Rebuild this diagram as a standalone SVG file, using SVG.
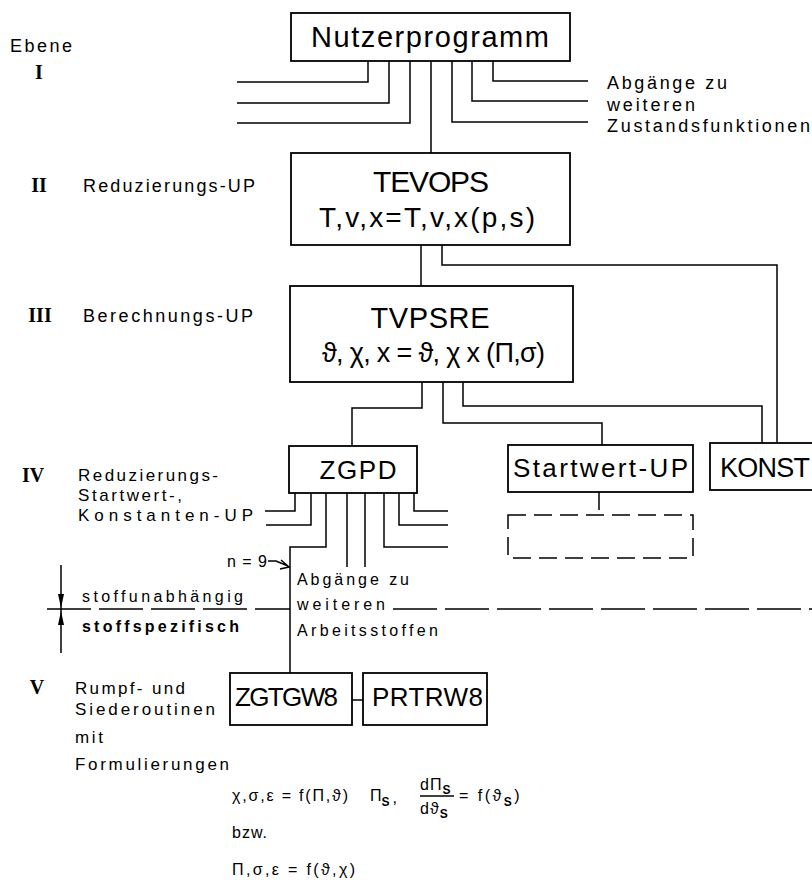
<svg xmlns="http://www.w3.org/2000/svg" width="812" height="887" viewBox="0 0 812 887">
<style>
text{font-family:"Liberation Sans","DejaVu Sans",Arial,sans-serif;fill:#000}
.box{fill:#fff;stroke:#000;stroke-width:1.8}
.dbox{fill:none;stroke:#000;stroke-width:1.5;stroke-dasharray:18 8}
.ln{fill:none;stroke:#000;stroke-width:1.5}
.sep{fill:none;stroke:#000;stroke-width:1.5;stroke-dasharray:44 8}
.lab{font-size:18px}
.lab2{font-size:17px}
.sm{font-size:16px}
.rom{font-family:"Liberation Serif","DejaVu Serif",serif;font-weight:bold;font-size:20px}
.f{font-size:16px}
.sub{font-size:12px;font-weight:bold}
.c{text-anchor:middle}
</style>
<rect width="812" height="887" fill="#fff"/>

<g id="level-labels">
<text class="lab" x="10" y="52" textLength="62">Ebene</text>
<text class="rom c" x="39" y="79">I</text>
<text class="rom c" x="39" y="192">II</text>
<text class="lab" x="83" y="192" textLength="172">Reduzierungs-UP</text>
<text class="rom c" x="40" y="322">III</text>
<text class="lab" x="83" y="322" textLength="170">Berechnungs-UP</text>
<text class="rom c" x="33" y="482">IV</text>
<text class="lab2" x="78" y="481" textLength="140">Reduzierungs-</text>
<text class="lab2" x="78" y="501" textLength="104">Startwert-,</text>
<text class="lab2" x="78" y="521" textLength="175">Konstanten-UP</text>
<text class="rom c" x="37" y="694">V</text>
<text class="lab2" x="75" y="694" textLength="110">Rumpf- und</text>
<text class="lab2" x="75" y="715" textLength="140">Siederoutinen</text>
<text class="lab2" x="75" y="743" textLength="28">mit</text>
<text class="lab2" x="75" y="770" textLength="154">Formulierungen</text>
</g>

<g id="connectors">
<path class="ln" d="M368,61 V82 H237 M389,61 V103 H237 M410,61 V123 H237 M431,61 V153 M452,61 V122 H588 M472,61 V101 H588 M493,61 V81 H588"/>
<path class="ln" d="M421,245 V286"/>
<path class="ln" d="M442,245 V265 H777 V443"/>
<path class="ln" d="M422,382 V408 H352 V446"/>
<path class="ln" d="M443,382 V423 H602 V445"/>
<path class="ln" d="M463,382 V406 H762 V443"/>
<path class="ln" d="M295,493 V511 H265 M311,493 V525 H266 M326,493 V547 H290 V673 M347,493 V567 M365,493 V567 M384,493 V547 H448 M399,493 V525 H448 M414,493 V511 H448"/>
<path class="ln" d="M352,700 H363"/>
<path class="dbox" d="M599,492 V515"/>
</g>

<g id="separator">
<path class="sep" d="M47,609 H290 M393,609 H812"/>
<path class="ln" d="M61,565 V653"/>
<polygon points="58,594 64,594 61,608" fill="#000"/>
<polygon points="58,625 64,625 61,611" fill="#000"/>
<text class="sm" x="82" y="602" textLength="161">stoffunabhängig</text>
<text class="sm" x="82" y="632" textLength="157" font-weight="bold">stoffspezifisch</text>
</g>

<g id="n9">
<text class="sm" x="227" y="567" textLength="40">n = 9</text>
<path class="ln" d="M268,561 L276,561 L288,566 M281,560 L289,567 L280,569"/>
</g>

<g id="nutzerprogramm">
<rect class="box" x="291" y="13" width="279" height="48"/>
<text class="c" x="430" y="47" font-size="29" textLength="238">Nutzerprogramm</text>
</g>
<g id="abgaenge-zustand">
<text class="lab" x="607" y="89" textLength="120">Abgänge zu</text>
<text class="lab" x="607" y="111" textLength="88">weiteren</text>
<text class="lab" x="607" y="132" textLength="203">Zustandsfunktionen</text>
</g>

<g id="tevops">
<rect class="box" x="291" y="153" width="279" height="92"/>
<text class="c" x="431" y="192" font-size="30" textLength="116">TEVOPS</text>
<text class="c" x="427" y="227" font-size="28" textLength="216">T,v,x=T,v,x(p,s)</text>
</g>

<g id="tvpsre">
<rect class="box" x="290" y="286" width="283" height="96"/>
<text class="c" x="430" y="328" font-size="29" textLength="119">TVPSRE</text>
<text x="322" y="362" font-size="27" textLength="223">ϑ, χ, x = ϑ, χ x (Π,σ)</text>
</g>

<g id="zgpd">
<rect class="box" x="289" y="446" width="128" height="47"/>
<text class="c" x="358" y="479" font-size="26" textLength="77">ZGPD</text>
</g>

<g id="startwert">
<rect class="box" x="508" y="445" width="185" height="47"/>
<text x="513" y="477" font-size="26" textLength="175">Startwert-UP</text>
</g>
<g id="startwert-sub">
<rect class="dbox" x="508" y="515" width="185" height="43"/>
</g>

<g id="konst">
<rect class="box" x="710" y="443" width="110" height="47"/>
<text x="720" y="477" font-size="27" textLength="90">KONST</text>
</g>

<g id="abgaenge-arbeitsstoffe">
<text class="sm" x="297" y="585" textLength="112">Abgänge zu</text>
<text class="sm" x="297" y="610" textLength="88">weiteren</text>
<text class="sm" x="297" y="636" textLength="141">Arbeitsstoffen</text>
</g>

<g id="zgtgw8">
<rect class="box" x="230" y="673" width="122" height="52"/>
<text x="235" y="706" font-size="26" textLength="103">ZGTGW8</text>
</g>
<g id="prtrw8">
<rect class="box" x="363" y="673" width="124" height="52"/>
<text x="372" y="706" font-size="26" textLength="111">PRTRW8</text>
</g>

<g id="formulas">
<text class="f" x="232" y="801" textLength="116">χ,σ,ε = f(Π,ϑ)</text>
<text class="f" x="370" y="801">Π<tspan class="sub" dy="5">S</tspan><tspan dy="-3" dx="3">,</tspan></text>
<text class="f" x="420" y="790" letter-spacing="1">dΠ<tspan class="sub" dy="4">S</tspan></text>
<path class="ln" d="M420,796 H454"/>
<text class="f" x="420" y="814" letter-spacing="1">dϑ<tspan class="sub" dy="4">S</tspan></text>
<text class="f" x="459" y="801" letter-spacing="2.5">= f(ϑ<tspan class="sub" dy="5">S</tspan><tspan dy="-5">)</tspan></text>
<text class="f" x="232" y="838" letter-spacing="1">bzw.</text>
<text class="f" x="232" y="875" textLength="123">Π,σ,ε = f(ϑ,χ)</text>
</g>
</svg>
